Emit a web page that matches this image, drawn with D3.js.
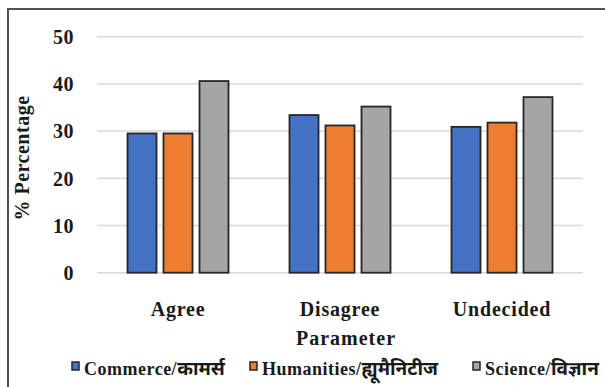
<!DOCTYPE html>
<html>
<head>
<meta charset="utf-8">
<script src="https://cdn.jsdelivr.net/npm/d3@7/dist/d3.min.js"></script>
<style>
  html, body { margin: 0; padding: 0; background: #fff; }
  svg { display: block; }
</style>
</head>
<body>
<svg id="chart" width="605" height="387"></svg>
<script>
// Response categories on the x axis
const categories = ["Agree", "Disagree", "Undecided"];

// Stream names shown in the legend: English part and Hindi part
const seriesLatin = ["Commerce/", "Humanities/", "Science/"];
const seriesHindi = ["कामर्स", "ह्यूमैनिटीज", "विज्ञान"];

// Percentage of respondents per stream, one value per category
const commerce   = [29.5, 33.4, 30.9];
const humanities = [29.5, 31.2, 31.8];
const science    = [40.6, 35.2, 37.2];

// Y axis tick values
const yTicks = [0, 10, 20, 30, 40, 50];

const seriesValues = [commerce, humanities, science];
const colors = ["#4472C4", "#ED7D31", "#A5A5A5"];
const SERIF = "'Liberation Serif', 'DejaVu Serif', 'Times New Roman', serif";

const svg = d3.select("#chart");
const plot = { left: 97, right: 583, top: 36.7, bottom: 272.7 };

function serifText(sel, size, spacing) {
  return sel.style("font-family", SERIF)
    .style("font-weight", "bold")
    .style("font-size", size + "px")
    .style("letter-spacing", (spacing || 0) + "px")
    .attr("fill", "#1a1a1a");
}

// Outer chart frame
svg.append("rect")
  .attr("x", 8).attr("y", 9)
  .attr("width", 640).attr("height", 420)
  .attr("fill", "none")
  .attr("stroke", "#505050")
  .attr("stroke-width", 2);

const x = d3.scaleBand()
  .domain(categories)
  .range([plot.left, plot.right])
  .padding(0);

const xInner = d3.scaleBand()
  .domain(d3.range(seriesValues.length))
  .range([0, x.bandwidth()])
  .paddingInner(0.194)
  .paddingOuter(0.847);

const y = d3.scaleLinear()
  .domain([0, 50])
  .range([plot.bottom, plot.top]);

// Horizontal gridlines
svg.append("g")
  .selectAll("line")
  .data(yTicks)
  .join("line")
  .attr("x1", plot.left).attr("x2", plot.right)
  .attr("y1", d => y(d)).attr("y2", d => y(d))
  .attr("stroke", "#d9d9d9")
  .attr("stroke-width", 1.5);

// Y axis labels
const yAxis = d3.axisLeft(y).tickValues(yTicks).tickSize(0).tickPadding(0);
const yg = svg.append("g")
  .attr("transform", `translate(74,0)`)
  .call(yAxis);
yg.select(".domain").remove();
serifText(yg.selectAll("text"), 20, 0.5).attr("dy", "0.34em");

// Grouped bars
const groups = svg.append("g")
  .selectAll("g")
  .data(categories)
  .join("g")
  .attr("transform", d => `translate(${x(d)},0)`);

groups.selectAll("rect")
  .data((d, ci) => seriesValues.map((vals, si) => ({ si, v: vals[ci] })))
  .join("rect")
  .attr("x", d => xInner(d.si))
  .attr("width", xInner.bandwidth())
  .attr("y", d => y(d.v))
  .attr("height", d => y(0) - y(d.v))
  .attr("fill", d => colors[d.si])
  .attr("stroke", "#262626")
  .attr("stroke-width", 1.8);

// Category labels
const xAxis = d3.axisBottom(x).tickSize(0).tickPadding(0);
const xg = svg.append("g")
  .attr("transform", `translate(0,316)`)
  .call(xAxis);
xg.select(".domain").remove();
serifText(xg.selectAll("text"), 20, 0.8).attr("dy", 0).attr("y", 0);

// Axis titles
serifText(svg.append("text"), 20, 1)
  .attr("x", 346).attr("y", 345)
  .attr("text-anchor", "middle")
  .text("Parameter");

serifText(svg.append("text"), 20, 0.5)
  .attr("transform", "translate(29,158) rotate(-90)")
  .attr("text-anchor", "middle")
  .text("% Percentage");

// Legend
const legendX = [72, 250, 473];
const legend = svg.append("g")
  .selectAll("g")
  .data(seriesLatin)
  .join("g")
  .attr("transform", (d, i) => `translate(${legendX[i]},362)`);

legend.append("rect")
  .attr("width", 7).attr("height", 8)
  .attr("fill", (d, i) => colors[i])
  .attr("stroke", "#262626")
  .attr("stroke-width", 1.5);

const legendText = legend.append("text")
  .attr("x", 12).attr("y", 13)
  .attr("fill", "#1a1a1a");

serifText(legendText.append("tspan"), 18, 0.5)
  .text(d => d);

legendText.append("tspan")
  .style("font-family", "'Noto Sans Devanagari', 'Lohit Devanagari', 'Noto Sans', sans-serif")
  .style("font-size", "19px")
  .style("font-weight", "bold")
  .attr("fill", "#1a1a1a")
  .text((d, i) => seriesHindi[i]);
</script>
</body>
</html>
